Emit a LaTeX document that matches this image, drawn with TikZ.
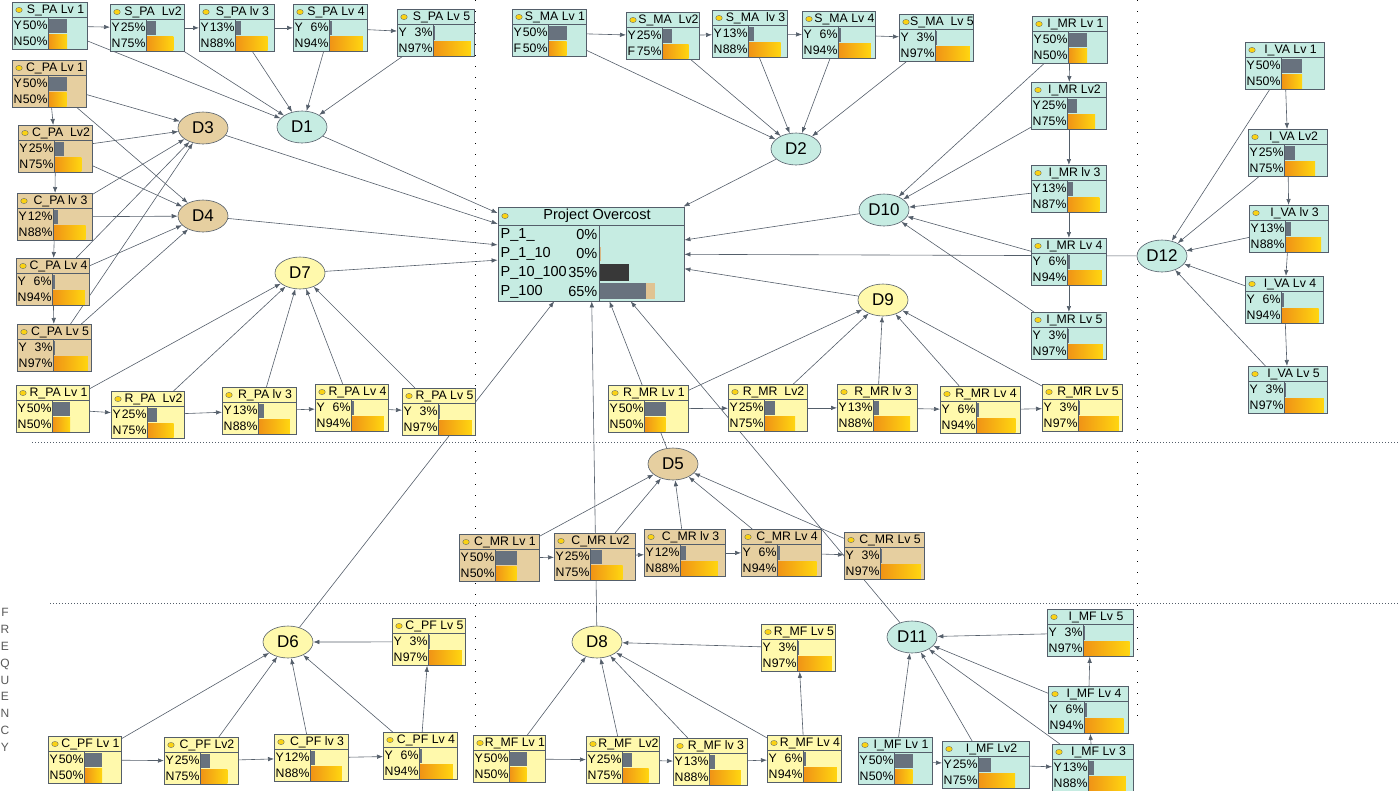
\documentclass[tikz,border=0pt]{standalone}
\usepackage{fontspec}
\setmainfont{Liberation Sans}
\usepackage{tikz}
\usetikzlibrary{arrows.meta,backgrounds,calc,shapes.geometric}

\definecolor{cyanbg}{RGB}{198,236,226}
\definecolor{tanbg}{RGB}{230,207,160}
\definecolor{yelbg}{RGB}{255,249,172}
\definecolor{edgec}{RGB}{84,94,106}
\definecolor{bargray}{RGB}{104,114,126}
\definecolor{barorange}{RGB}{240,148,22}
\definecolor{baryellow}{RGB}{255,214,16}
\definecolor{dotc}{RGB}{250,210,20}

\tikzset{
  monbox/.style={draw=edgec, line width=0.8pt, minimum height=47pt, inner sep=0pt},
  montxt/.style={inner sep=0.3pt, font=\fontsize{12.3}{13}\selectfont},
  potxt/.style={inner sep=0.5pt, font=\fontsize{14.5}{15}\selectfont},
  boxln/.style={draw=edgec, line width=0.6pt},
  dnode/.style={ellipse, draw=edgec, line width=0.6pt, minimum width=50pt,
    minimum height=32pt, inner sep=0pt, font=\fontsize{17}{17}\selectfont},
  conn/.style={draw=edgec, line width=0.6pt, -{Latex[length=6pt,width=4.5pt]}},
  sepline/.style={draw=edgec, line width=0.8pt, dash pattern=on 1pt off 2pt},
  sepvert/.style={draw=black, line width=1pt, dash pattern=on 1pt off 10pt},
}

% monitor box: name, left, top, fill, title, Y%, 2nd letter, 2nd %, width
\newcommand{\monitor}[9]{%
  \node[monbox, fill=#4, minimum width=#9pt, anchor=north west] (#1) at (#2,#3) {};
  \draw[boxln] (#2,#3+15) -- (#2+#9,#3+15);
  \draw[boxln] (#2+36,#3+15) -- (#2+36,#3+47);
  \filldraw[fill=dotc, draw=edgec, line width=0.3pt] (#2+7,#3+8) ellipse (3.3 and 2.6);
  \node[montxt] at ({#2+(12+#9)/2},#3+8) {#5};
  \node[montxt, anchor=west] at (#2+1,#3+23) {Y};
  \node[montxt, anchor=east] at (#2+36,#3+23) {#6\%};
  \node[montxt, anchor=west] at (#2+1,#3+39) {#7};
  \node[montxt, anchor=east] at (#2+36,#3+39) {#8\%};
  \fill[bargray] (#2+37,#3+16.5) rectangle ({#2+37+(#9-39)*#6/100},#3+30.5);
  \shade[left color=barorange, right color=baryellow] (#2+37,#3+32)
    rectangle ({#2+37+(#9-39)*#8/100},#3+46);
}

\begin{document}
\begin{tikzpicture}[x=1pt,y=-1pt]
\useasboundingbox (0,0) rectangle (1400,790);

% S_PA row
\monitor{spa1}{12}{2}{cyanbg}{S\_PA Lv 1}{50}{N}{50}{75}
\monitor{spa2}{110}{4}{cyanbg}{S\_PA\ \ Lv2}{25}{N}{75}{74}
\monitor{spa3}{199}{4}{cyanbg}{S\_PA lv 3}{13}{N}{88}{75}
\monitor{spa4}{293}{4}{cyanbg}{S\_PA Lv 4}{6}{N}{94}{74}
\monitor{spa5}{397}{9}{cyanbg}{S\_PA Lv 5}{3}{N}{97}{77}

% C_PA column
\monitor{cpa1}{12}{60}{tanbg}{C\_PA Lv 1}{50}{N}{50}{74}
\monitor{cpa2}{18}{125}{tanbg}{C\_PA\ \ Lv2}{25}{N}{75}{74}
\monitor{cpa3}{17}{193}{tanbg}{C\_PA lv 3}{12}{N}{88}{75}
\monitor{cpa4}{16}{258}{tanbg}{C\_PA Lv 4}{6}{N}{94}{73}
\monitor{cpa5}{17}{324}{tanbg}{C\_PA Lv 5}{3}{N}{97}{74}

% R_PA row
\monitor{rpa1}{16}{385}{yelbg}{R\_PA Lv 1}{50}{N}{50}{73}
\monitor{rpa2}{111}{391}{yelbg}{R\_PA\ \ Lv2}{25}{N}{75}{73}
\monitor{rpa3}{222}{387}{yelbg}{R\_PA lv 3}{13}{N}{88}{74}
\monitor{rpa4}{315}{384}{yelbg}{R\_PA Lv 4}{6}{N}{94}{73}
\monitor{rpa5}{402}{388}{yelbg}{R\_PA Lv 5}{3}{N}{97}{73}

% S_MA row
\monitor{sma1}{512}{9}{cyanbg}{S\_MA Lv 1}{50}{F}{50}{74}
\monitor{sma2}{626}{12}{cyanbg}{S\_MA\ \ Lv2}{25}{F}{75}{73}
\monitor{sma3}{712}{10}{cyanbg}{S\_MA\ \ lv 3}{13}{N}{88}{75}
\monitor{sma4}{802}{11}{cyanbg}{S\_MA Lv 4}{6}{N}{94}{73}
\monitor{sma5}{899}{14}{cyanbg}{S\_MA\ \ Lv 5}{3}{N}{97}{74}

% I_MR column
\monitor{imr1}{1032}{16}{cyanbg}{I\_MR Lv 1}{50}{N}{50}{75}
\monitor{imr2}{1031}{82}{cyanbg}{I\_MR Lv2}{25}{N}{75}{75}
\monitor{imr3}{1031}{165}{cyanbg}{I\_MR lv 3}{13}{N}{87}{75}
\monitor{imr4}{1031}{238}{cyanbg}{I\_MR Lv 4}{6}{N}{94}{75}
\monitor{imr5}{1031}{312}{cyanbg}{I\_MR Lv 5}{3}{N}{97}{75}

% I_VA column
\monitor{iva1}{1245}{42}{cyanbg}{I\_VA Lv 1}{50}{N}{50}{79}
\monitor{iva2}{1248}{129}{cyanbg}{I\_VA Lv2}{25}{N}{75}{79}
\monitor{iva3}{1249}{205}{cyanbg}{I\_VA lv 3}{13}{N}{88}{79}
\monitor{iva4}{1245}{276}{cyanbg}{I\_VA Lv 4}{6}{N}{94}{78}
\monitor{iva5}{1248}{366}{cyanbg}{I\_VA Lv 5}{3}{N}{97}{79}

% R_MR row
\monitor{rmr1}{608}{385}{yelbg}{R\_MR Lv 1}{50}{N}{50}{80}
\monitor{rmr2}{728}{384}{yelbg}{R\_MR\ \ Lv2}{25}{N}{75}{79}
\monitor{rmr3}{837}{384}{yelbg}{R\_MR lv 3}{13}{N}{88}{80}
\monitor{rmr4}{940}{386}{yelbg}{R\_MR Lv 4}{6}{N}{94}{80}
\monitor{rmr5}{1042}{384}{yelbg}{R\_MR Lv 5}{3}{N}{97}{80}

% C_MR row
\monitor{cmr1}{459}{534}{tanbg}{C\_MR Lv 1}{50}{N}{50}{80}
\monitor{cmr2}{554}{533}{tanbg}{C\_MR Lv2}{25}{N}{75}{81}
\monitor{cmr3}{644}{529}{tanbg}{C\_MR lv 3}{12}{N}{88}{81}
\monitor{cmr4}{741}{529}{tanbg}{C\_MR Lv 4}{6}{N}{94}{80}
\monitor{cmr5}{844}{532}{tanbg}{C\_MR Lv 5}{3}{N}{97}{80}

% C_PF row
\monitor{cpf1}{48}{736}{yelbg}{C\_PF Lv 1}{50}{N}{50}{73}
\monitor{cpf2}{164}{737}{yelbg}{C\_PF Lv2}{25}{N}{75}{74}
\monitor{cpf3}{274}{734}{yelbg}{C\_PF lv 3}{12}{N}{88}{74}
\monitor{cpf4}{383}{732}{yelbg}{C\_PF Lv 4}{6}{N}{94}{74}
\monitor{cpf5}{392}{618}{yelbg}{C\_PF Lv 5}{3}{N}{97}{73}

% R_MF row
\monitor{rmf1}{473}{735}{yelbg}{R\_MF Lv 1}{50}{N}{50}{72}
\monitor{rmf2}{586}{736}{yelbg}{R\_MF\ \ Lv2}{25}{N}{75}{73}
\monitor{rmf3}{673}{738}{yelbg}{R\_MF lv 3}{13}{N}{88}{74}
\monitor{rmf4}{767}{735}{yelbg}{R\_MF Lv 4}{6}{N}{94}{74}
\monitor{rmf5}{761}{624}{yelbg}{R\_MF Lv 5}{3}{N}{97}{74}

% I_MF group
\monitor{imf1}{858}{737}{cyanbg}{I\_MF Lv 1}{50}{N}{50}{74}
\monitor{imf2}{942}{741}{cyanbg}{I\_MF Lv2}{25}{N}{75}{87}
\monitor{imf3}{1052}{744}{cyanbg}{I\_MF Lv 3}{13}{N}{88}{81}
\monitor{imf4}{1048}{686}{cyanbg}{I\_MF Lv 4}{6}{N}{94}{80}
\monitor{imf5}{1047}{609}{cyanbg}{I\_MF Lv 5}{3}{N}{97}{86}

% Project Overcost
\node[monbox, fill=cyanbg, minimum width=186pt, minimum height=94pt] (po) at (591,254) {};
\draw[boxln] (498,225) -- (684,225);
\draw[boxln] (599,225) -- (599,301);
\filldraw[fill=dotc, draw=edgec, line width=0.3pt] (505,216) ellipse (3.3 and 2.6);
\node[potxt] at (597,216) {Project Overcost};
\node[potxt, anchor=west] at (500,235) {P\_1\_};
\node[potxt, anchor=east] at (598,235) {0\%};
\node[potxt, anchor=west] at (500,254) {P\_1\_10};
\node[potxt, anchor=east] at (598,254) {0\%};
\node[potxt, anchor=west] at (500,273) {P\_10\_100};
\node[potxt, anchor=east] at (598,273) {35\%};
\node[potxt, anchor=west] at (500,292) {P\_100};
\node[potxt, anchor=east] at (598,292) {65\%};
\fill[tanbg!70!brown] (599.5,247) rectangle (601,261);
\fill[black!78] (599.5,264) rectangle (629,281);
\fill[bargray] (599.5,283) rectangle (646,299);
\fill[tanbg!85!brown] (646,283) rectangle (655,299);

% decision nodes
\node[dnode, fill=cyanbg] (d1) at (302,127) {D1};
\node[dnode, fill=cyanbg] (d2) at (796,149) {D2};
\node[dnode, fill=tanbg] (d3) at (203,128) {D3};
\node[dnode, fill=tanbg] (d4) at (203,216) {D4};
\node[dnode, fill=tanbg] (d5) at (673,464) {D5};
\node[dnode, fill=yelbg] (d6) at (288,642) {D6};
\node[dnode, fill=yelbg] (d7) at (300,273) {D7};
\node[dnode, fill=yelbg] (d8) at (597,642) {D8};
\node[dnode, fill=yelbg] (d9) at (883,300) {D9};
\node[dnode, fill=cyanbg] (d10) at (884,210) {D10};
\node[dnode, fill=cyanbg] (d11) at (912,637) {D11};
\node[dnode, fill=cyanbg] (d12) at (1162,256) {D12};

\node[align=center, inner sep=0pt, text=gray!70!black,
  font=\fontsize{12}{16.8}\selectfont] (freq) at (5,680) {F\\R\\E\\Q\\U\\E\\N\\C\\Y};

\begin{scope}[on background layer]
% separators
\draw[sepvert] (475,0) -- (475,790);
\draw[sepvert] (1137,0) -- (1137,720);
\draw[sepline] (32,442) -- (1400,442);
\draw[sepline] (50,603) -- (1400,603);
% chains
\foreach \g in {spa,sma,imr,iva,cpa,rpa,rmr,cmr,cpf,rmf,imf}{
  \foreach \i [evaluate=\i as \j using int(\i+1)] in {1,...,4}
    \draw[conn] (\g\i) -- (\g\j);
}
% into decision nodes
\foreach \g/\d in {spa/d1,cpa/d3,cpa/d4,rpa/d7,sma/d2,imr/d10,iva/d12,
                   rmr/d9,cmr/d5,cpf/d6,rmf/d8,imf/d11}{
  \foreach \i in {1,...,5}
    \draw[conn] (\g\i) -- (\d);
}
% into Project Overcost
\foreach \i in {1,...,12}
  \draw[conn] (d\i) -- (po);
\end{scope}
\end{tikzpicture}
\end{document}
